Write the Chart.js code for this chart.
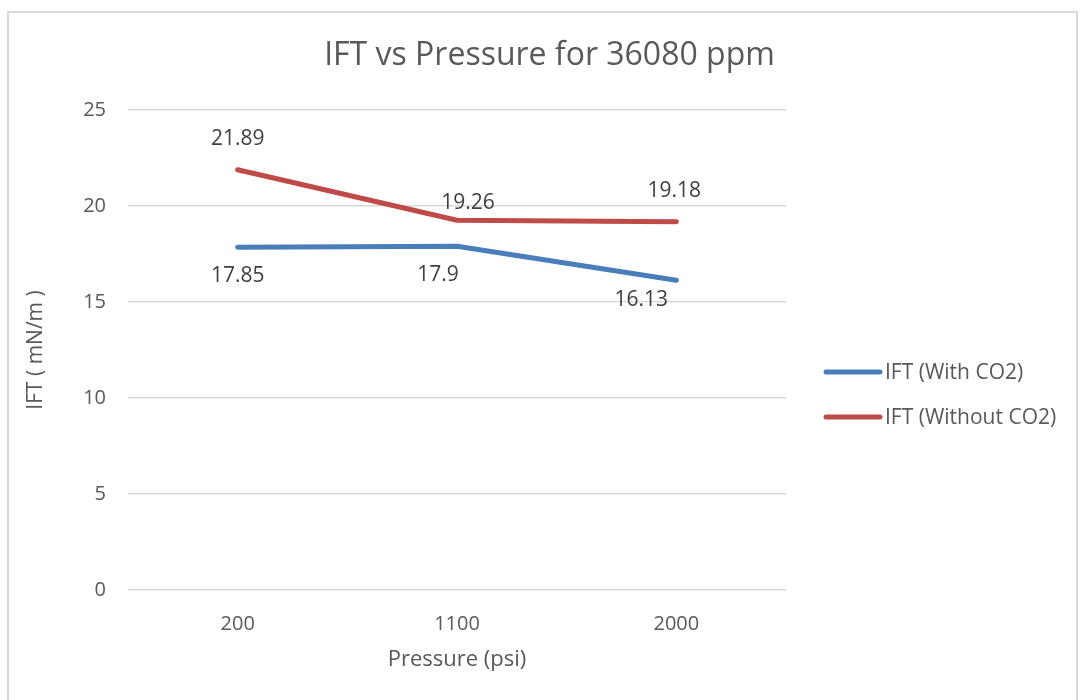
<!DOCTYPE html>
<html>
<head>
<meta charset="utf-8">
<title>IFT vs Pressure</title>
<script src="https://cdn.jsdelivr.net/npm/chart.js@4.4.0/dist/chart.umd.min.js"></script>
<style>
  html, body { margin: 0; padding: 0; background: #fff; }
  #wrap { position: relative; width: 1080px; height: 700px; overflow: hidden; }
  #frame {
    position: absolute; left: 7px; top: 11px; width: 1071px; height: 720px;
    border: 2px solid #d9d9d9; box-sizing: border-box; pointer-events: none;
  }
</style>
</head>
<body>
<div id="wrap">
  <canvas id="myChart" width="1080" height="700"></canvas>
  <div id="frame"></div>
</div>
<script>
const pressures = ['200', '1100', '2000'];
const iftWithCO2 = [17.85, 17.9, 16.13];
const iftWithoutCO2 = [21.89, 19.26, 19.18];
const yTicks = [0, 5, 10, 15, 20, 25];

const FONT = '"Open Sans", "Noto Sans", sans-serif';
const GREY = '#595959';

// value labels next to each point, nudged per point so they don't collide
const valueLabels = {
  id: 'valueLabels',
  afterDatasetsDraw(chart) {
    const ctx = chart.ctx;
    ctx.save();
    ctx.font = '21px ' + FONT;
    ctx.fillStyle = '#404040';
    ctx.textAlign = 'center';
    ctx.textBaseline = 'middle';
    chart.data.datasets.forEach((ds, i) => {
      const meta = chart.getDatasetMeta(i);
      meta.data.forEach((pt, j) => {
        const [dx, dy] = ds.labelShift[j];
        ctx.fillText(String(ds.data[j]), pt.x + dx, pt.y + dy);
      });
    });
    ctx.restore();
  }
};

// legend on the right, as its own layout box so the plot leaves room for it
const sideLegend = {
  id: 'sideLegend',
  beforeInit(chart) {
    const box = {
      position: 'right',
      weight: 100,
      fullSize: false,
      options: {},
      width: 0, height: 0, left: 0, top: 0, right: 0, bottom: 0,
      isHorizontal() { return false; },
      update(maxWidth, maxHeight) {
        this.width = 294;
        this.height = maxHeight;
      },
      draw() {
        const ctx = chart.ctx;
        const area = chart.chartArea;
        ctx.save();
        ctx.font = '21px ' + FONT;
        ctx.textBaseline = 'middle';
        ctx.textAlign = 'left';
        chart.data.datasets.forEach((ds, i) => {
          const y = area.top + 262 + i * 45;
          const x0 = this.left + 40;
          ctx.strokeStyle = ds.borderColor;
          ctx.lineWidth = 5;
          ctx.lineCap = 'round';
          ctx.beginPath();
          ctx.moveTo(x0, y);
          ctx.lineTo(x0 + 54, y);
          ctx.stroke();
          ctx.fillStyle = GREY;
          ctx.fillText(ds.label, x0 + 59, y + 1);
        });
        ctx.restore();
      }
    };
    Chart.layouts.addBox(chart, box);
  }
};

const ctx = document.getElementById('myChart').getContext('2d');

const myChart = new Chart(ctx, {
  type: 'line',
  data: {
    labels: pressures,
    datasets: [{
      label: 'IFT (With CO2)',
      data: iftWithCO2,
      borderColor: '#4a7ebb',
      backgroundColor: '#4a7ebb',
      borderWidth: 5,
      borderCapStyle: 'round',
      borderJoinStyle: 'round',
      pointRadius: 0,
      tension: 0,
      labelShift: [[0, 29], [-19, 29], [-35, 20]]
    }, {
      label: 'IFT (Without CO2)',
      data: iftWithoutCO2,
      borderColor: '#be4b48',
      backgroundColor: '#be4b48',
      borderWidth: 5,
      borderCapStyle: 'round',
      borderJoinStyle: 'round',
      pointRadius: 0,
      tension: 0,
      labelShift: [[0, -31], [11, -17], [-2, -31]]
    }]
  },
  options: {
    responsive: false,
    animation: false,
    layout: { padding: { left: 19, right: 0, top: 0, bottom: 10 } },
    plugins: {
      legend: { display: false },
      tooltip: { enabled: false },
      title: {
        display: true,
        text: 'IFT vs Pressure for 36080 ppm',
        color: GREY,
        font: { family: FONT, size: 32, weight: 'normal' },
        padding: { top: 37, bottom: 34.6 }
      }
    },
    scales: {
      x: {
        offset: true,
        grid: { display: false, drawTicks: false },
        border: { display: false },
        ticks: { color: GREY, padding: 22, font: { family: FONT, size: 20 } },
        title: {
          display: true,
          text: 'Pressure (psi)',
          color: GREY,
          font: { family: FONT, size: 22 },
          padding: { top: 4, bottom: 17 }
        },
        afterFit(scale) { scale.height = 100; }
      },
      y: {
        min: yTicks[0],
        max: yTicks[yTicks.length - 1],
        grid: { color: '#d9d9d9', lineWidth: 1.5, drawTicks: false },
        border: { display: false },
        ticks: {
          stepSize: yTicks[1] - yTicks[0],
          color: GREY,
          padding: 22,
          font: { family: FONT, size: 20 }
        },
        title: {
          display: true,
          text: 'IFT ( mN/m )',
          color: GREY,
          font: { family: FONT, size: 21 },
          padding: { top: 4, bottom: 4 }
        },
        afterFit(scale) { scale.width = 109; }
      }
    }
  },
  plugins: [sideLegend, valueLabels]
});
</script>
</body>
</html>
